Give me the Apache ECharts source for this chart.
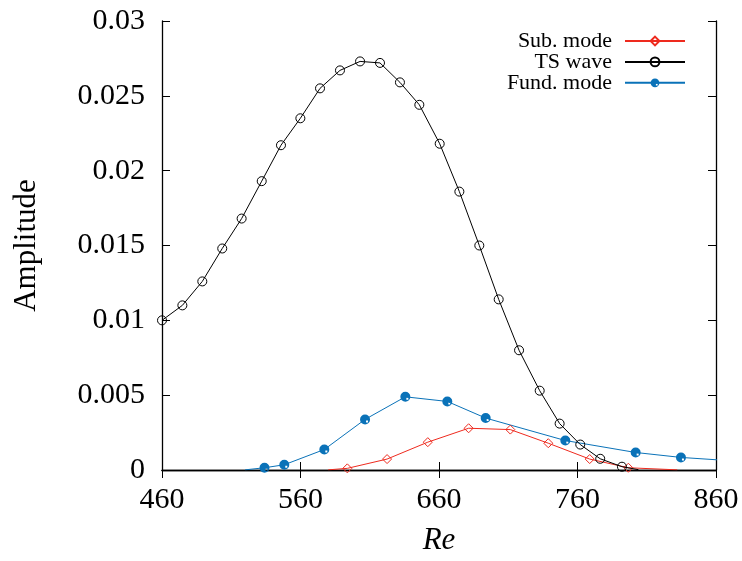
<!DOCTYPE html>
<html>
<head>
<meta charset="utf-8">
<script src="https://cdn.jsdelivr.net/npm/echarts@6/dist/echarts.min.js"></script>
<style>
html,body{margin:0;padding:0;background:#fff;}
#chart{width:742px;height:561px;}
</style>
</head>
<body>
<div id="chart"></div>
<script>
// Re values and amplitudes
const tsRe  = [460, 474.7, 489.1, 503.5, 517.5, 532.0, 545.9, 559.9, 574.1, 588.5, 603.0, 617.4, 631.8, 645.8, 660.5, 674.7, 689.1, 703.1, 717.8, 732.7, 747.1, 762.0, 776.4, 792.1, 804];
const tsAmp = [0.0100, 0.0110, 0.0126, 0.0148, 0.0168, 0.0193, 0.0217, 0.0235, 0.0255, 0.0267, 0.0273, 0.0272, 0.0259, 0.0244, 0.0218, 0.0186, 0.0150, 0.0114, 0.0080, 0.0053, 0.0031, 0.0017, 0.00075, 0.00022, 0.00002];
const tsNoMarker = [24];

const fundRe  = [520, 534, 548.3, 577.2, 606.6, 635.7, 666.0, 693.7, 751.2, 802.0, 834.7, 864];
const fundAmp = [0.00001, 0.00015, 0.00035, 0.00137, 0.00338, 0.00489, 0.00458, 0.00347, 0.00197, 0.00117, 0.00084, 0.00066];
const fundNoMarker = [0];

const subRe  = [580, 593.8, 622.5, 651.9, 681.4, 711.5, 738.9, 768.8, 796.7, 832];
const subAmp = [0.00001, 0.00011, 0.00073, 0.00186, 0.00279, 0.00270, 0.00179, 0.00073, 0.00015, 0.00001];
const subNoMarker = [0, 9];

const xTicks = ['460', '560', '660', '760', '860'];
const yTicks = ['0', '0.005', '0.01', '0.015', '0.02', '0.025', '0.03'];

const seriesNames = ['Sub. mode', 'TS wave', 'Fund. mode'];

function pairs(xs, ys) { return xs.map((x, i) => [x, ys[i]]); }

const FONT = 'Liberation Serif';
const RED = '#ee2a1e';
const BLUE = '#0a72b8';
const BLACK = '#000000';

// filled circle with a small white notch (gnuplot style)
const fundSymbol = 'path://M10,0 A10,10 0 1,1 -10,0 A10,10 0 1,1 10,0 Z M2,2 L2,6 L6,6 L6,2 Z';

function sizeFn(hidden, s) {
  return function (v, p) { return hidden.indexOf(p.dataIndex) >= 0 ? 0 : s; };
}

const chart = echarts.init(document.getElementById('chart'), null, {renderer: 'canvas'});

const axisCommon = {
  axisLine: {show: true, lineStyle: {color: '#000', width: 1.3}},
  axisTick: {show: true, inside: true, length: 8, lineStyle: {color: '#000', width: 1}},
  splitLine: {show: false}
};

chart.setOption({
  animation: false,
  backgroundColor: '#fff',
  grid: {left: 162, right: 26, top: 21, bottom: 88, containLabel: false},
  legend: {
    orient: 'vertical',
    align: 'right',
    right: 51,
    top: 25,
    itemWidth: 60,
    itemHeight: 11,
    itemGap: -1.1,
    data: seriesNames,
    textStyle: {fontFamily: FONT, fontSize: 22, color: '#000', lineHeight: 19, padding: [0, 8, 0, 0]}
  },
  xAxis: [
    Object.assign({
      type: 'value', position: 'bottom', min: 460, max: 860, interval: 100,
      name: 'Re', nameLocation: 'middle', nameGap: 55,
      nameTextStyle: {fontFamily: FONT, fontStyle: 'italic', fontSize: 31, color: '#000'},
      axisLabel: {margin: 15, fontFamily: FONT, fontSize: 30, color: '#000',
        formatter: (v, i) => xTicks[Math.round((v - 460) / 100)]}
    }, axisCommon),
    Object.assign({
      type: 'value', position: 'top', min: 460, max: 860, interval: 100,
      axisLabel: {show: false}
    }, axisCommon)
  ],
  yAxis: [
    Object.assign({
      type: 'value', position: 'left', min: 0, max: 0.03, interval: 0.005,
      name: 'Amplitude', nameLocation: 'middle', nameGap: 120, nameRotate: 90,
      nameTextStyle: {fontFamily: FONT, fontSize: 31, color: '#000'},
      axisLabel: {margin: 17, fontFamily: FONT, fontSize: 30, color: '#000',
        formatter: (v) => yTicks[Math.round(v / 0.005)]}
    }, axisCommon),
    Object.assign({
      type: 'value', position: 'right', min: 0, max: 0.03, interval: 0.005,
      axisLabel: {show: false}
    }, axisCommon)
  ],
  series: [
    {
      name: seriesNames[0], type: 'line', xAxisIndex: 0, yAxisIndex: 0,
      data: pairs(subRe, subAmp), clip: true,
      symbol: 'diamond', symbolSize: sizeFn(subNoMarker, 9),
      itemStyle: {color: 'none', borderColor: RED, borderWidth: 1},
      lineStyle: {color: RED, width: 1},
      z: 3
    },
    {
      name: seriesNames[1], type: 'line', xAxisIndex: 0, yAxisIndex: 0,
      data: pairs(tsRe, tsAmp), clip: true,
      symbol: 'circle', symbolSize: sizeFn(tsNoMarker, 9),
      itemStyle: {color: 'none', borderColor: BLACK, borderWidth: 1},
      lineStyle: {color: BLACK, width: 1},
      z: 4
    },
    {
      name: seriesNames[2], type: 'line', xAxisIndex: 0, yAxisIndex: 0,
      data: pairs(fundRe, fundAmp), clip: true,
      symbol: fundSymbol, symbolSize: sizeFn(fundNoMarker, 10),
      itemStyle: {color: BLUE, borderWidth: 0},
      lineStyle: {color: BLUE, width: 1},
      z: 2
    }
  ]
});
</script>
</body>
</html>
